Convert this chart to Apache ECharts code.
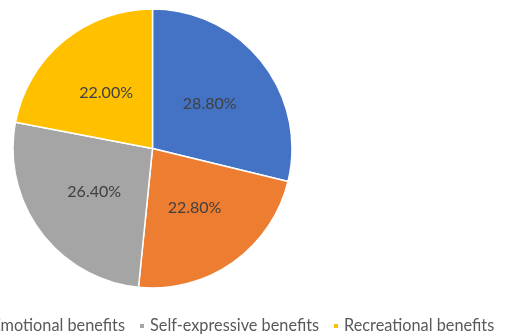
<!DOCTYPE html>
<html>
<head>
<meta charset="utf-8">
<style>
  html, body { margin: 0; padding: 0; background: #fff; }
  #chart { width: 506px; height: 335px; }
</style>
<script src="https://cdn.jsdelivr.net/npm/echarts@6/dist/echarts.min.js"></script>
</head>
<body>
<div id="chart"></div>
<script>
// Share of each benefit type (percent)
const categories = ['Functional benefits', 'Emotional benefits', 'Self-expressive benefits', 'Recreational benefits'];
const shares = [28.8, 22.8, 26.4, 22.0];
const colors = ['#4472C4', '#ED7D31', '#A5A5A5', '#FFC000'];

const FONT = 'Lato';
const chart = echarts.init(document.getElementById('chart'), null, { renderer: 'canvas' });

const legendBase = {
  orient: 'horizontal',
  top: 318,
  itemWidth: 6,
  itemHeight: 6,
  itemGap: 16,
  icon: 'rect',
  padding: 0,
  width: 900,
  textStyle: { color: '#595959', fontSize: 16.3, fontFamily: FONT },
  selectedMode: false
};

chart.setOption({
  animation: false,
  backgroundColor: '#ffffff',
  color: colors,
  legend: [
    Object.assign({}, legendBase, { data: categories.slice(0, 2), right: 381 }),
    Object.assign({}, legendBase, { data: [categories[2]], left: 138 }),
    Object.assign({}, legendBase, { data: [categories[3]], left: 332 })
  ],
  series: [{
    type: 'pie',
    center: [152.5, 148.5],
    radius: [0, 139.5],
    startAngle: 90,
    clockwise: true,
    avoidLabelOverlap: false,
    itemStyle: { borderColor: '#ffffff', borderWidth: 1.5 },
    label: {
      show: true,
      position: 'inside',
      formatter: p => p.value.toFixed(2) + '%',
      color: '#404040',
      fontSize: 16,
      fontFamily: FONT
    },
    labelLine: { show: false },
    emphasis: { disabled: true },
    data: categories.map((name, i) => ({ name, value: shares[i] }))
  }]
});
</script>
</body>
</html>
